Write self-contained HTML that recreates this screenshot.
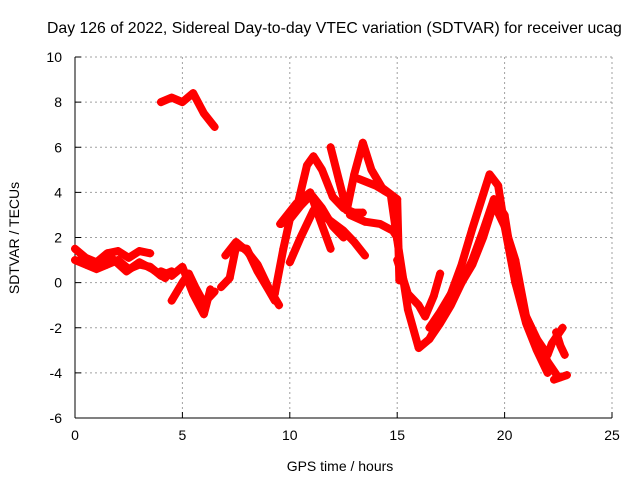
<!DOCTYPE html>
<html><head><meta charset="utf-8"><style>
html,body{margin:0;padding:0;background:#fff;}
svg{display:block;font-family:"Liberation Sans",sans-serif;}
</style></head><body>
<svg id="chart" width="640" height="480">
<text x="47" y="33" font-size="15.8" text-anchor="start">Day 126 of 2022, Sidereal Day-to-day VTEC variation (SDTVAR) for receiver ucag</text>
<text x="340" y="471" font-size="14" text-anchor="middle">GPS time / hours</text>
<text transform="translate(19,238) rotate(-90)" font-size="14" text-anchor="middle">SDTVAR / TECUs</text>
<g id="grid"></g><g id="axes"></g><g id="marks"></g>
</svg>
<script>
const xTicks=[0,5,10,15,20,25];
const yTicks=[-6,-4,-2,0,2,4,6,8,10];
const tA=[0,0.5,1,1.5,2,2.5,3,3.5];
const vA=[1.5,1.1,0.9,1.3,1.4,1.1,1.4,1.3];
const tB=[0,0.5,1,1.5,2,2.5,3,3.5,4,4.5];
const vB=[1.0,0.8,0.6,0.8,1.0,0.6,0.8,0.7,0.3,0.5];
const tC=[0.3,1,1.7,2.4,3,3.6,4.2];
const vC=[1.2,0.7,1.1,0.5,0.9,0.6,0.2];
const tD=[4,4.5,5,5.5,6,6.3];
const vD=[0.5,0.3,0.7,-0.5,-1.4,-0.3];
const tE=[4.5,5,5.3,5.6,6,6.5];
const vE=[-0.8,0,0.4,-0.2,-0.9,-0.4];
const tF=[4,4.5,5,5.5,6,6.5];
const vF=[8.0,8.2,8.0,8.4,7.5,6.9];
const tG=[6.8,7.2,7.5,8,8.5,9,9.3];
const vG=[-0.2,0.2,1.6,1.5,0.5,-0.3,-0.8];
const tH=[7,7.5,8,8.5,9,9.5];
const vH=[1.2,1.8,1.4,0.8,-0.2,-1.0];
const tI=[9.3,9.7,10,10.5,11,11.5,12,12.5];
const vI=[-0.5,1.5,2.8,3.4,3.9,3.3,2.5,2.0];
const tJ=[9.6,10.3,10.8,11.1,11.5,12,12.5,13,13.4];
const vJ=[2.6,3.2,5.2,5.6,5.0,3.8,3.3,3.1,3.1];
const tK=[11.9,12.3,12.65,13,13.4,13.8,14.3,15,15.1];
const vK=[6.0,4.5,3.2,4.8,6.2,5.0,4.2,3.7,0.1];
const tL=[9.55,10.3,10.95,11.4,11.9];
const vL=[2.6,3.5,4.0,2.8,1.5];
const tM=[10,10.5,11.1,11.8,12.5,13,13.5];
const vM=[0.9,2.0,3.2,2.8,2.3,1.8,1.2];
const tN=[12.8,13.5,14.2,14.8,15];
const vN=[3.0,2.7,2.6,2.3,2.0];
const tO=[13.2,14,14.7,15,15.5,16,16.5,17,17.5,18,18.5,19,19.3,19.7,20,20.5,21,21.5,22];
const vO=[4.6,4.3,3.9,1.9,-1.2,-2.9,-2.5,-1.6,-0.5,0.8,2.4,3.9,4.8,4.3,2.5,0,-1.8,-3.0,-4.0];
const tP=[15,15.5,16,16.3,16.7,17];
const vP=[1.0,-0.5,-1.0,-1.5,-0.6,0.4];
const tQ=[16.5,17,17.5,18,18.5,19,19.5,20,20.5,21,21.5,22,22.2,22.7];
const vQ=[-2.5,-1.8,-1.0,0,1.0,2.3,3.7,3.0,0,-1.5,-2.5,-3.2,-2.7,-2.0];
const tR=[16.5,17,17.5,18,18.5,19,19.5,20,20.5,21,21.5,22,22.5];
const vR=[-2.0,-1.3,-0.5,0,0.8,2.0,3.5,2.5,1.0,-1.5,-2.5,-3.5,-4.2];
const tS=[22.4,22.6,22.8];
const vS=[-2.2,-2.8,-3.2];
const tT=[22.3,22.6,22.9];
const vT=[-4.3,-4.2,-4.1];
const series=[[tA,vA],[tB,vB],[tC,vC],[tD,vD],[tE,vE],[tF,vF],[tG,vG],[tH,vH],[tI,vI],[tJ,vJ],[tK,vK],[tL,vL],[tM,vM],[tN,vN],[tO,vO],[tP,vP],[tQ,vQ],[tR,vR],[tS,vS],[tT,vT]];
const X0=75,X1=612,Y0=418,Y1=57;
function xs(t){return X0+(t-0)/(25-0)*(X1-X0);}
function ys(v){return Y0-(v+6)/16*(Y0-Y1);}
const NS="http://www.w3.org/2000/svg";
function mk(tag,attrs,parent){const e=document.createElementNS(NS,tag);for(const k in attrs)e.setAttribute(k,attrs[k]);parent.appendChild(e);return e;}
const grid=document.getElementById('grid'),axes=document.getElementById('axes'),marks=document.getElementById('marks');
xTicks.forEach(t=>{const x=xs(t);
 if(t>0){const g=mk('line',{x1:x,x2:x,y1:Y1,y2:Y0,stroke:'#a0a0a0','stroke-dasharray':'2,3'},grid);
 
 }
 mk('line',{x1:x,x2:x,y1:Y0,y2:Y0-6,stroke:'#000'},axes);
 const l=mk('text',{x:x,y:Y0+22,'font-size':14,'text-anchor':'middle'},axes);l.textContent=t;
 
 });
yTicks.forEach(v=>{const y=ys(v);
 if(v>-6){const g=mk('line',{x1:X0,x2:X1,y1:y,y2:y,stroke:'#a0a0a0','stroke-dasharray':'2,3'},grid);
 
 }
 mk('line',{x1:X0,x2:X0+6,y1:y,y2:y,stroke:'#000'},axes);
 const l=mk('text',{x:X0-13,y:y+5,'font-size':14,'text-anchor':'end'},axes);l.textContent=v;
 
 });
mk('line',{x1:X0,x2:X0,y1:Y1,y2:Y0,stroke:'#000'},axes);
mk('line',{x1:X0,x2:X1,y1:Y0,y2:Y0,stroke:'#000'},axes);
series.forEach(([ts,vs])=>{
 const pts=ts.map((t,i)=>xs(t)+','+ys(vs[i])).join(' ');
 const pl=mk('polyline',{points:pts,fill:'none',stroke:'#ff0000','stroke-width':8,'stroke-linejoin':'round','stroke-linecap':'round'},marks);
 
 
 ts.forEach((t,i)=>{const x=xs(t),y=ys(vs[i]);
  const p=mk('path',{d:`M${x-4},${y}H${x+4}M${x},${y-4}V${y+4}`,stroke:'#ff0000','stroke-width':1.5},marks);
  
  });
});
</script>
</body></html>
